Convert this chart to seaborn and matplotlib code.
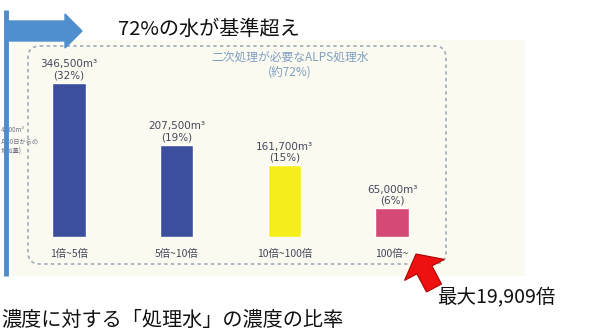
import matplotlib
matplotlib.use("Agg")
import matplotlib.pyplot as plt
import seaborn as sns
import pandas as pd
from matplotlib.patches import FancyArrow, FancyBboxPatch, Rectangle

# ---- data ----
categories = ["1倍~5倍", "5倍~10倍", "10倍~100倍", "100倍~"]
volumes = [346500, 207500, 161700, 65000]
shares = ["32%", "19%", "15%", "6%"]
bar_colors = ["#3b4f9d", "#3b4f9d", "#f6ee1c", "#d54a74"]
title_text = "72%の水が基準超え"
box_text = "二次処理が必要なALPS処理水\n(約72%)"
bottom_text = "濃度に対する「処理水」の濃度の比率"
max_text = "最大19,909倍"
side_text = ["4,200m³", "月30日からの", "増加量)"]

sns.set_theme(style="white")
plt.rcParams["font.family"] = ["Noto Sans CJK JP", "DejaVu Sans"]

W, H = 591, 333
fig = plt.figure(figsize=(W / 100, H / 100), dpi=100)
fig.patch.set_facecolor("white")

def fx(x):
    return x / W

def fy(y):
    return 1 - y / H

# overlay axes in pixel coordinates (for decorations)
ov = fig.add_axes([0, 0, 1, 1])
ov.set_xlim(0, W)
ov.set_ylim(H, 0)
ov.axis("off")
ov.set_zorder(1)

# beige scanned panel
ov.add_patch(Rectangle((12, 40), 513, 236, facecolor="#fbfaf1", edgecolor="none", zorder=0))
# dashed rounded box
ov.add_patch(FancyBboxPatch((28, 46), 418, 218, boxstyle="round,pad=0,rounding_size=12",
                            facecolor="none", edgecolor="#9fabb9", linestyle=(0, (2, 2)),
                            linewidth=1.2, zorder=1))

# bar axes
base_y, top_y = 237, 40
ymax = volumes[0] * (base_y - top_y) / (base_y - 83)
ax = fig.add_axes([fx(15.2), fy(base_y), fx(446) - fx(15.2), fy(top_y) - fy(base_y)])
ax.set_zorder(3)
ax.set_facecolor("none")
ax.patch.set_alpha(0)
df = pd.DataFrame({"cat": categories, "vol": volumes})
sns.barplot(data=df, x="cat", y="vol", hue="cat", palette=bar_colors,
            width=0.31, legend=False, ax=ax, saturation=1)
ax.set_xlim(-0.5, 3.5)
ax.set_ylim(0, ymax)
ax.set_xticks([])
ax.set_yticks([])
ax.set_xlabel("")
ax.set_ylabel("")
for s in ax.spines.values():
    s.set_visible(False)

for i, (v, p) in enumerate(zip(volumes, shares)):
    ax.text(i, v + ymax * 0.012, f"{v:,}m³\n({p})", ha="center", va="bottom",
            fontsize=7.5, color="#44475a", linespacing=1.15, family=["DejaVu Sans"])
    ax.annotate(categories[i], xy=(i, 0), xytext=(0, -8.5), textcoords="offset points",
                ha="center", va="top", fontsize=7.5, color="#44475a")

# inner caption
ov.text(290, 65, box_text, ha="center", va="center", fontsize=8.5,
        color="#7f9fc0", linespacing=1.2)

# side note (left margin)
for k, t in enumerate(side_text):
    ov.text(1, 130 + k * 11, t, ha="left", va="center", fontsize=4.5,
            color="#6a7080", zorder=2)

# blue vertical line and arrow
ov.plot([6, 6], [10, 276], color="#4d8cc9", linewidth=3.5, zorder=5,
        solid_capstyle="butt")
ov.add_patch(FancyArrow(6, 31, 76, 0, width=20, head_width=34, head_length=17,
                        length_includes_head=True, facecolor="#4f8fcd",
                        edgecolor="#4f8fcd", zorder=6))

# title
ov.text(118, 29, title_text, ha="left", va="center", fontsize=14.5, color="#111111")

# red arrow
ov.add_patch(FancyArrow(434, 288, -18, -34, width=17, head_width=45, head_length=18,
                        length_includes_head=True, facecolor="#ee1111",
                        edgecolor="#b00000", linewidth=0.8, zorder=6))

ov.text(437, 297, max_text, ha="left", va="center", fontsize=14, color="#111111")
ov.text(1, 320, bottom_text, ha="left", va="center", fontsize=14.5, color="#111111")

fig.savefig("out.png", dpi=100)
